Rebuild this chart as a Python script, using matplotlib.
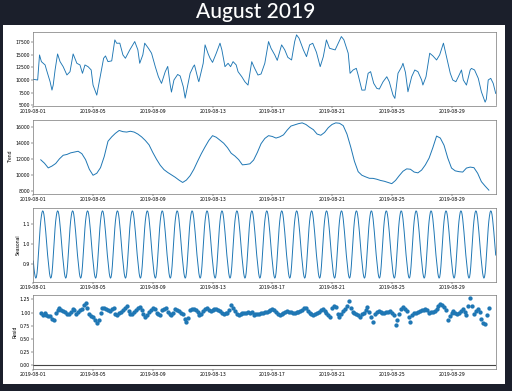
import numpy as np
import pandas as pd
import matplotlib
matplotlib.use('Agg')
import matplotlib.pyplot as plt
import matplotlib.dates as mdates
from matplotlib.ticker import MultipleLocator
from matplotlib.patches import Rectangle

start = pd.Timestamp('2019-08-01')
n_hours = 744

# observed series, read at turning points (hour since Aug 1 00:00, value)
obs_hours = [0, 7, 10, 13, 19, 21, 27, 30, 32, 35, 39, 43, 48, 54, 59, 64, 70, 75, 79, 83,
             88, 93, 96, 102, 107, 113, 116, 120, 126, 131, 134, 139, 144, 148, 155, 163,
             168, 171, 176, 179, 185, 190, 196, 201, 206, 212, 216, 220, 222, 226, 232,
             236, 241, 244, 252, 257, 259, 265, 266, 273, 276, 281, 284, 288, 294, 300,
             303, 308, 313, 317, 321, 326, 329, 335, 340, 345, 351, 355, 361, 366, 372,
             378, 382, 388, 392, 399, 404, 409, 415, 420, 423, 427, 434, 439, 444, 449,
             455, 461, 466, 471, 476, 485, 490, 495, 499, 506, 509, 514, 519, 522, 528,
             533, 538, 542, 547, 552, 556, 562, 568, 572, 578, 581, 586, 592, 594, 598,
             602, 608, 613, 618, 624, 626, 631, 637, 642, 648, 653, 659, 664, 670, 674,
             679, 683, 688, 691, 696, 702, 704, 709, 715, 720, 726, 728, 731, 735, 739, 743]
obs_values = [10130, 10000, 14980, 13650, 12990, 12100, 9650, 7990, 9000, 11990, 15180, 13650,
              12650, 11000, 11650, 15180, 13320, 12990, 11330, 12990, 12650, 12000, 8990, 6990,
              10330, 14320, 14780, 13650, 13800, 17970, 17300, 17320, 14980, 14320, 15980,
              17640, 16000, 13320, 15000, 17320, 16300, 15320, 12650, 10650, 9330, 11650,
              12700, 9000, 7600, 10000, 11100, 10800, 8650, 6400, 11330, 12650, 12990, 10000,
              9660, 13320, 16980, 15200, 14330, 13500, 15320, 17320, 15990, 12650, 13320,
              12650, 13650, 13000, 11650, 10650, 9650, 8990, 13640, 12500, 10990, 11200,
              13320, 17640, 16300, 14980, 13900, 16980, 16000, 14500, 13980, 17640, 18970,
              18300, 15980, 14640, 16980, 17300, 15500, 12650, 14640, 17970, 16300, 15980,
              17300, 18630, 18000, 15320, 11330, 12000, 12320, 10990, 7990, 8000, 11330,
              11660, 9330, 8330, 8200, 9650, 10650, 9650, 7000, 6340, 11330, 12650, 13320,
              11500, 7660, 10650, 11990, 11660, 10000, 9000, 10650, 15320, 14800, 13980,
              15000, 17320, 14640, 11330, 10000, 9650, 10650, 11990, 9990, 8990, 11990,
              12300, 12000, 10330, 7660, 5600, 6200, 10000, 10330, 9330, 7330]

# trend, every 6 hours from Aug 1 12:00 to Aug 31 12:00
trend_values = [11880, 11450,
                10870, 11100, 11420, 12000,
                12450, 12550, 12750, 12850,
                12950, 12650, 11900, 10700,
                9950, 10200, 10900, 12300,
                14200, 14750, 15200, 15550,
                15400, 15350, 15450, 15350,
                15100, 14750, 14300, 13750,
                12800, 11950, 11200, 10650,
                10300, 10000, 9700, 9350,
                9050, 9350, 9900, 10700,
                11700, 12650, 13500, 14300,
                14900, 14700, 14330, 13950,
                13400, 12700, 12350, 11900,
                11250, 11300, 11380, 11850,
                12800, 13900, 14550, 14900,
                14800, 14600, 14750, 15000,
                15600, 16100, 16250, 16400,
                16500, 16300, 15950, 15650,
                15100, 14950, 15300, 15900,
                16300, 16500, 16450, 16150,
                15100, 13500, 11700, 10400,
                9950, 9750, 9570, 9560,
                9450, 9300, 9200, 9050,
                8900, 9300, 9900, 10450,
                10750, 10700, 10350, 10250,
                10600, 11250, 12100, 13400,
                14850, 14600, 13700, 12100,
                10850, 10500, 10400, 10350,
                10850, 10970, 10900, 10200,
                9150, 8600, 8090]

# daily seasonal factor, hour 0..23
seasonal_day = [0.915, 0.88, 0.855, 0.838, 0.83, 0.835, 0.855, 0.89, 0.935, 0.985, 1.035, 1.08,
                1.115, 1.14, 1.158, 1.165, 1.162, 1.148, 1.125, 1.095, 1.06, 1.02, 0.98, 0.945]

# residual, every 3 hours from Aug 1 12:00 to Aug 31 12:00
resid_values = [1.00, 0.96, 1.00, 0.96,
                0.93, 0.94, 0.87, 0.86, 1.00, 1.05, 1.08, 1.04,
                1.03, 1.02, 0.98, 0.97, 1.02, 1.06, 1.04, 0.98,
                1.02, 1.04, 1.07, 1.15, 1.18, 1.08, 0.97, 0.94,
                0.92, 0.86, 0.80, 0.86, 1.00, 1.08, 1.08, 1.06,
                1.05, 1.03, 1.06, 1.09, 0.97, 0.95, 0.99, 1.02,
                1.05, 1.09, 1.12, 1.03, 0.98, 0.98, 1.02, 1.05,
                1.08, 1.11, 1.05, 0.97, 0.92, 0.96, 1.01, 1.04,
                1.08, 1.06, 1.00, 0.97, 0.96, 1.04, 1.07, 1.08,
                1.02, 0.98, 0.95, 1.00, 1.06, 1.04, 1.03, 1.00,
                0.97, 0.88, 0.82, 0.90, 1.05, 1.06, 1.06, 1.04,
                1.01, 0.96, 0.98, 1.03, 1.07, 1.09, 1.05, 1.03,
                1.05, 1.06, 1.06, 1.04, 1.03, 1.00, 0.97, 0.99,
                1.00, 1.04, 1.14, 1.08, 1.03, 0.97, 0.95, 0.98,
                1.00, 1.00, 1.00, 1.02, 1.00, 1.02, 0.95, 0.97,
                0.97, 0.98, 1.00, 1.00, 1.01, 1.02, 1.03, 1.04,
                1.06, 1.05, 1.02, 0.98, 0.95, 0.98, 1.00, 1.02,
                1.03, 1.02, 1.01, 1.00, 1.00, 1.01, 1.02, 1.03,
                1.05, 1.08, 1.08, 1.03, 1.00, 0.97, 0.95, 0.98,
                1.00, 1.02, 1.04, 1.06, 1.03, 1.00, 0.96, 0.92,
                1.09, 1.13, 1.10, 0.97, 0.92, 0.98, 1.03, 1.07,
                1.12, 1.22, 1.08, 1.02, 1.00, 0.97, 0.95, 0.92,
                0.97, 1.00, 1.04, 1.10, 1.02, 0.92, 0.83, 0.98,
                1.01, 1.03, 1.02, 1.00, 1.00, 1.01, 1.02, 1.03,
                1.00, 0.96, 0.77, 0.86, 0.98, 1.06, 1.11, 1.06,
                1.03, 0.92, 0.82, 0.95, 0.99, 1.00, 1.02, 1.03,
                1.04, 1.05, 1.06, 1.04, 1.00, 1.01, 1.02, 1.03,
                1.07, 1.12, 1.17, 1.14, 1.10, 1.05, 0.85, 0.94,
                0.99, 1.03, 1.00, 0.97, 1.00, 1.03, 1.06, 1.02,
                0.95, 1.12, 1.28, 1.12, 0.98, 1.03, 1.06, 1.02,
                0.88, 0.81, 0.78, 0.95, 1.09]

date_ticks = ['2019-08-01', '2019-08-05', '2019-08-09', '2019-08-13',
              '2019-08-17', '2019-08-21', '2019-08-25', '2019-08-29']

# time axes
idx = start + pd.to_timedelta(np.arange(n_hours), unit='h')
obs_t = start + pd.to_timedelta(obs_hours, unit='h')
trend_t = start + pd.to_timedelta(12 + 6 * np.arange(len(trend_values)), unit='h')
resid_t = start + pd.to_timedelta(12 + 3 * np.arange(len(resid_values)), unit='h')
seasonal = np.tile(seasonal_day, n_hours // 24)

W, H = 512, 391
fig = plt.figure(figsize=(W / 100, H / 100), dpi=100)
fig.patch.set_facecolor('#1b1f2b')
fig.patches.append(Rectangle((3 / W, 1 - 384 / H), 502 / W, 359 / H,
                             transform=fig.transFigure, facecolor='white',
                             edgecolor='none', zorder=-5))
fig.text(0.5, 1 - 12 / H, 'August 2019', ha='center', va='center',
         color='white', fontsize=15, family='Lato', weight='medium')

blue = '#1f77b4'
fs = 3.3
tops = [31.5, 119.5, 207.5, 294.5]
axes = []
for top in tops:
    ax = fig.add_axes([33.3 / W, 1 - (top + 74) / H, 462.4 / W, 74 / H])
    ax.set_zorder(2)
    axes.append(ax)

axes[0].plot(obs_t, obs_values, color=blue, lw=0.65)
axes[1].plot(trend_t, trend_values, color=blue, lw=0.7)
axes[2].plot(idx, seasonal, color=blue, lw=0.7)
axes[3].plot(resid_t, resid_values, marker='o', linestyle='none', color=blue,
             markersize=3.1, markeredgewidth=0)
axes[3].plot([idx[0], idx[-1]], [0, 0], color='#444444', lw=0.8, zorder=-3)

axes[1].set_ylabel('Trend', fontsize=fs, labelpad=1.5)
axes[2].set_ylabel('Seasonal', fontsize=fs, labelpad=1.5)
axes[3].set_ylabel('Resid', fontsize=fs, labelpad=1.5)

steps = [2500, 2000, 0.1, 0.25]
for ax, step in zip(axes, steps):
    ax.set_xlim(idx[0], idx[-1])
    ax.yaxis.set_major_locator(MultipleLocator(step))
    ax.set_xticks(pd.to_datetime(date_ticks))
    ax.xaxis.set_major_formatter(mdates.DateFormatter('%Y-%m-%d'))
    ax.tick_params(labelsize=fs, length=1.2, width=0.3, pad=1)
    for sp in ax.spines.values():
        sp.set_linewidth(0.5)
        sp.set_color('#777777')
axes[3].yaxis.set_major_formatter(plt.FormatStrFormatter('%.2f'))

fig.savefig('out.png', dpi=100, facecolor=fig.get_facecolor())
